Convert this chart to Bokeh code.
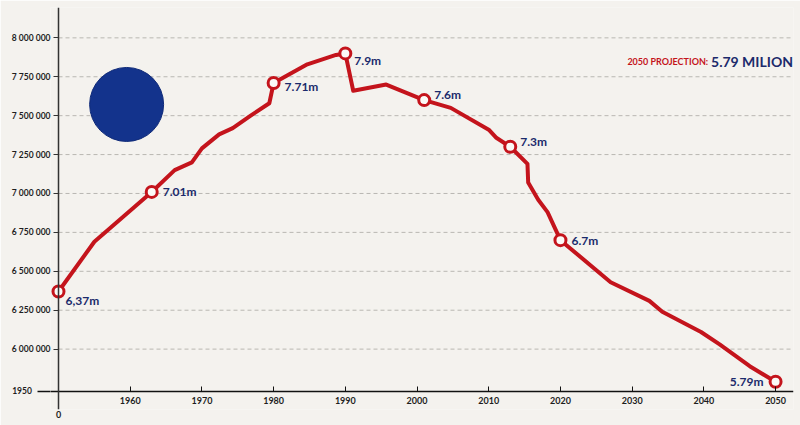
from bokeh.plotting import figure
from bokeh.models import ColumnDataSource, FixedTicker, Label, LinearAxis, Range1d
from bokeh.core.properties import value
from bokeh.embed import file_html
from bokeh.resources import INLINE

# Population curve, 1950 to the 2050 projection
years = [1950, 1955, 1963, 1966.2, 1968.6, 1970, 1972.4, 1974.3, 1976.8, 1979.4,
         1980, 1984.7, 1988.7, 1990, 1991.1, 1995.7, 2001, 2004.7, 2010, 2011,
         2013, 2015.4, 2015.5, 2016.9, 2018.2, 2020, 2027, 2032.4, 2034.2, 2039.6,
         2042.2, 2046.4, 2050]
population = [6_370_000, 6_690_000, 7_010_000, 7_150_000, 7_200_000, 7_290_000,
              7_380_000, 7_420_000, 7_500_000, 7_580_000, 7_710_000, 7_830_000,
              7_890_000, 7_900_000, 7_660_000, 7_700_000, 7_600_000, 7_550_000,
              7_410_000, 7_360_000, 7_300_000, 7_190_000, 7_070_000, 6_960_000,
              6_880_000, 6_700_000, 6_430_000, 6_310_000, 6_240_000, 6_110_000,
              6_030_000, 5_890_000, 5_790_000]

# Highlighted milestones
marker_years = [1950, 1963, 1980, 1990, 2001, 2013, 2020, 2050]
marker_values = [6_370_000, 7_010_000, 7_710_000, 7_900_000, 7_600_000,
                 7_300_000, 6_700_000, 5_790_000]
marker_labels = ["6,37m", "7.01m", "7.71m", "7.9m", "7.6m", "7.3m", "6.7m", "5.79m"]

# Axis ticks
x_ticks = [1960, 1970, 1980, 1990, 2000, 2010, 2020, 2030, 2040, 2050]
y_ticks = [6_000_000, 6_250_000, 6_500_000, 6_750_000, 7_000_000,
           7_250_000, 7_500_000, 7_750_000, 8_000_000]
y_tick_labels = ["6 000 000", "6 250 000", "6 500 000", "6 750 000", "7 000 000",
                 "7 250 000", "7 500 000", "7 750 000", "8 000 000"]
origin_year = 1950
origin_year_label = "1950"
origin_x_label = "0"

projection_title = "2050 PROJECTION:"
projection_value = marker_values[-1]

FONT = "Lato"
RED = "#c4141c"
NAVY = "#1b2a6b"
BLUE = "#13338c"
BG = "#f4f2ee"
INK = "#1e1e1e"

BASE = 5_728_000          # level where the time axis crosses
Y0, Y1 = 5_612_000, 8_195_000
X0, X1 = 1948.884, 2052.5

p = figure(width=800, height=425,
           x_range=Range1d(X0, X1), y_range=Range1d(Y0, Y1),
           x_axis_location=None,
           output_backend="svg", toolbar_location=None,
           min_border_left=50, min_border_right=7,
           min_border_top=7, min_border_bottom=16,
           background_fill_color=BG, border_fill_color=BG,
           outline_line_color=None)
p.grid.visible = False

def style_labels(axis, size):
    axis.major_label_text_font = FONT
    axis.major_label_text_font_style = "bold"
    axis.major_label_text_font_size = size
    axis.major_label_text_color = INK

# value labels; the long minor tick at the base level runs the time axis out to the left
overrides = dict(zip(y_ticks, y_tick_labels))
overrides[BASE] = origin_year_label + "\u00a0" * 9
ylab = p.yaxis[0]
ylab.ticker = FixedTicker(ticks=[BASE] + y_ticks, minor_ticks=[BASE])
ylab.major_label_overrides = overrides
ylab.axis_line_color = None
ylab.major_tick_line_color = None
ylab.major_tick_out = 0
ylab.major_tick_in = 0
ylab.minor_tick_out = 13
ylab.minor_tick_in = 0
ylab.minor_tick_line_color = "#111111"
ylab.minor_tick_line_width = 1.5
ylab.major_label_standoff = -13
style_labels(ylab, "8.5px")

# value axis line and ticks, pinned at the first year
yax = LinearAxis(fixed_location=origin_year,
                 ticker=FixedTicker(ticks=y_ticks, minor_ticks=[]),
                 axis_line_color="#333333", axis_line_width=1.5,
                 major_tick_out=5, major_tick_in=0,
                 major_tick_line_color="#333333",
                 major_label_text_color=None)
p.add_layout(yax, "left")

# time axis, pinned at the base level
xax = LinearAxis(fixed_location=BASE,
                 ticker=FixedTicker(ticks=x_ticks, minor_ticks=[]),
                 axis_line_color="#111111", axis_line_width=1.5,
                 major_tick_in=5, major_tick_out=0,
                 major_tick_line_color="#111111",
                 major_label_standoff=6)
style_labels(xax, "9px")
p.add_layout(xax, "below")

xorigin = LinearAxis(ticker=FixedTicker(ticks=[origin_year], minor_ticks=[]),
                     major_label_overrides={origin_year: origin_x_label},
                     axis_line_color=None, major_tick_line_color=None,
                     major_tick_out=0, major_tick_in=0,
                     major_label_standoff=1)
style_labels(xorigin, "9px")
p.add_layout(xorigin, "below")

# dashed horizontal guides from the value axis to the right edge
p.segment(x0=[origin_year] * len(y_ticks), y0=y_ticks,
          x1=[X1] * len(y_ticks), y1=y_ticks,
          line_color="#b9b7b2", line_dash="4 3", line_width=1)

# decorative blue disc
p.scatter(x=[1959.5], y=[7_572_000], size=74, fill_color=BLUE,
          line_color="#0f2a78", line_width=1)

# population line and milestone markers
p.line(years, population, line_color=RED, line_width=4, line_join="round")
p.scatter(marker_years, marker_values, size=11, fill_color="#fbfaf7",
          line_color=RED, line_width=3)

labels = ColumnDataSource(dict(
    x=marker_years, y=marker_values, text=marker_labels,
    dx=[7, 11, 11, 9, 10, 10, 11, -12],
    dy=[9, 0, 4, 7, -6, -5, 0, 0],
    align=["left"] * 7 + ["right"],
))
p.text(x="x", y="y", text="text", source=labels, x_offset="dx", y_offset="dy",
       text_align="align", text_baseline="middle",
       text_font=value(FONT), text_font_style="bold",
       text_font_size="12px", text_color=NAVY)

# projection caption
p.add_layout(Label(x=2040.6, y=7_848_000, text=projection_title,
                   text_align="right", text_baseline="alphabetic",
                   text_font=FONT, text_font_style="bold",
                   text_font_size="9px", text_color=RED))
p.add_layout(Label(x=2041.0, y=7_848_000,
                   text=f"{projection_value / 1e6:.2f} MILION",
                   text_align="left", text_baseline="alphabetic",
                   text_font=FONT, text_font_style="bold",
                   text_font_size="14px", text_color=NAVY))

open("out.html", "w").write(file_html(p, INLINE))
